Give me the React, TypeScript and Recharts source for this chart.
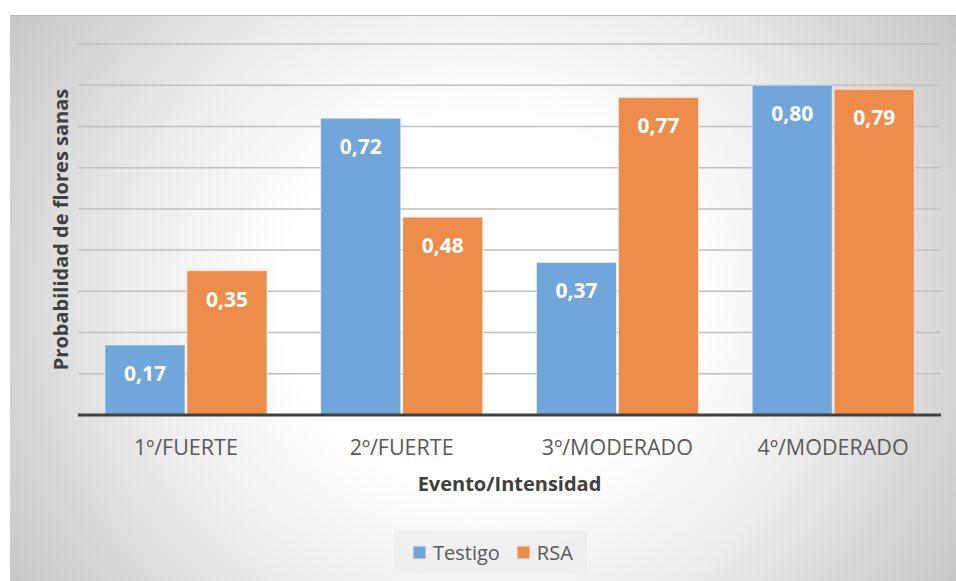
import React from 'react';
import { BarChart, Bar, XAxis, YAxis, CartesianGrid, LabelList, Legend, Label } from 'recharts';

const categories = ['1º/FUERTE', '2º/FUERTE', '3º/MODERADO', '4º/MODERADO'];
const testigo = [0.17, 0.72, 0.37, 0.8];
const rsa = [0.35, 0.48, 0.77, 0.79];
const yTicks = [0, 0.1, 0.2, 0.3, 0.4, 0.5, 0.6, 0.7, 0.8, 0.9];
const seriesNames = ['Testigo', 'RSA'];

const BLUE = '#70a6d9';
const ORANGE = '#ee8c4c';
const FONT = '"Open Sans", sans-serif';

const data = categories.map((c, i) => ({ category: c, Testigo: testigo[i], RSA: rsa[i] }));

const fmt = (v: any) => Number(v).toFixed(2).replace('.', ',');

const renderLegend = () => (
  <div style={{ position: 'relative', height: 42, width: 946 }}>
    <div
      style={{
        position: 'absolute',
        left: 384,
        top: 0,
        width: 193,
        height: 42,
        background: 'rgba(238,238,238,0.8)',
        display: 'flex',
        alignItems: 'center',
        fontFamily: FONT,
        fontSize: 20,
        color: '#595959',
        boxSizing: 'border-box',
        paddingLeft: 19,
      }}
    >
      <span style={{ display: 'inline-block', width: 13, height: 13, background: BLUE, border: '1px solid #a9c9e8', boxSizing: 'border-box', marginRight: 7 }} />
      <span style={{ marginRight: 17 }}>{seriesNames[0]}</span>
      <span style={{ display: 'inline-block', width: 13, height: 13, background: ORANGE, border: '1px solid #f4b894', boxSizing: 'border-box', marginRight: 7 }} />
      <span>{seriesNames[1]}</span>
    </div>
  </div>
);

const YTitle = (props: any) => {
  const vb = props.viewBox || { x: 0, y: 28, width: 68, height: 371 };
  const cy = vb.y + vb.height / 2;
  const x = vb.x + 58;
  return (
    <text
      x={x}
      y={cy}
      transform={`rotate(-90, ${x}, ${cy})`}
      textAnchor="middle"
      fontFamily={FONT}
      fontSize={20}
      fontWeight="bold"
      fill="#404040"
    >
      Probabilidad de flores sanas
    </text>
  );
};

const NoTick = () => <g />;

export default function App() {
  return (
    <div
      style={{
        position: 'absolute',
        left: 10,
        top: 15,
        width: 946,
        height: 566,
        background:
          'radial-gradient(ellipse 560px 520px at 473px 285px, #ffffff 0%, #ffffff 36%, #ececec 64%, #d5d5d5 85%, #c8c8c8 100%)',
        borderTop: '1px solid #b8b8b8',
        boxSizing: 'border-box',
      }}
    >
      <BarChart
        width={946}
        height={566}
        data={data}
        margin={{ top: 28, right: 15, left: 0, bottom: 9 }}
        barCategoryGap="12.5%"
        barGap={2}
      >
        <CartesianGrid vertical={false} stroke="#bfbfbf" strokeWidth={1.5} />
        <YAxis
          domain={[0, 0.9]}
          ticks={yTicks}
          width={68}
          tick={NoTick}
          axisLine={false}
          tickLine={false}
        >
          <Label content={(p: any) => <YTitle {...p} />} />
        </YAxis>
        <XAxis
          dataKey="category"
          height={116}
          axisLine={{ stroke: '#404040', strokeWidth: 3 }}
          tickLine={false}
          tickMargin={19}
          tick={{ fill: '#595959', fontSize: 21.5, fontFamily: FONT }}
          label={{
            value: 'Evento/Intensidad',
            position: 'insideTop',
            offset: 62,
            fill: '#404040',
            fontSize: 20,
            fontWeight: 'bold',
            fontFamily: FONT,
          }}
        />
        <Legend
          verticalAlign="bottom"
          content={renderLegend}
          wrapperStyle={{ left: 0, width: 946 }}
        />
        <Bar dataKey="Testigo" fill={BLUE} stroke="#ffffff" strokeOpacity={0.5} strokeWidth={1} isAnimationActive={false}>
          <LabelList
            dataKey="Testigo"
            position="insideTop"
            offset={21}
            fill="#ffffff"
            fontSize={21}
            fontWeight="bold"
            fontFamily={FONT}
            formatter={fmt}
          />
        </Bar>
        <Bar dataKey="RSA" fill={ORANGE} stroke="#ffffff" strokeOpacity={0.5} strokeWidth={1} isAnimationActive={false}>
          <LabelList
            dataKey="RSA"
            position="insideTop"
            offset={21}
            fill="#ffffff"
            fontSize={21}
            fontWeight="bold"
            fontFamily={FONT}
            formatter={fmt}
          />
        </Bar>
      </BarChart>
    </div>
  );
}
